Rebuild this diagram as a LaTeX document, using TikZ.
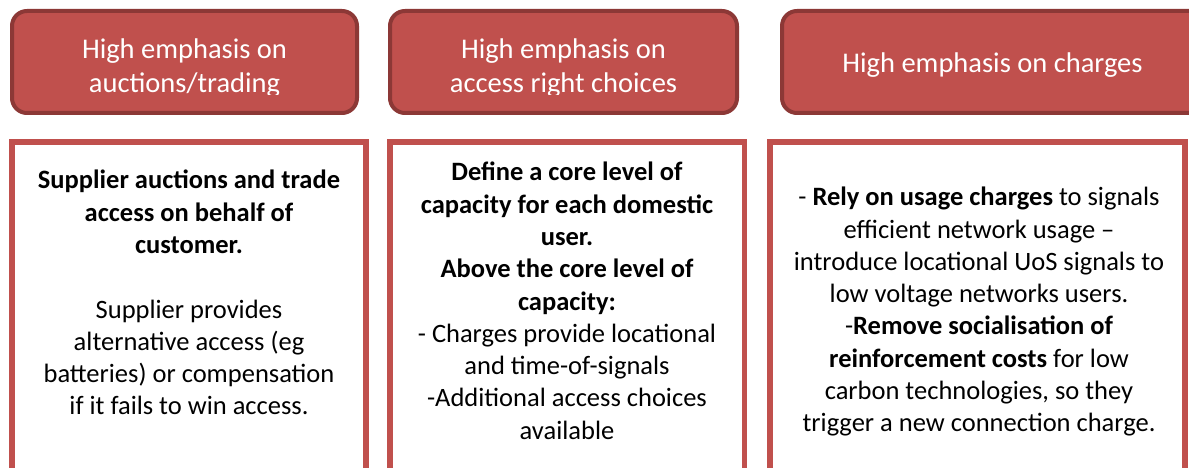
\documentclass[tikz,border=0pt]{standalone}
\usepackage{fontspec}
\setmainfont{Carlito}
\definecolor{hfill}{HTML}{C0504D}
\definecolor{hborder}{HTML}{8C3836}
\definecolor{bborder}{HTML}{C0504D}
\tikzset{
  headbox/.style={draw=hborder, fill=hfill, line width=4pt, rounded corners=15pt, inner sep=0pt, outer sep=0pt},
  bodybox/.style={draw=bborder, line width=5.5pt, inner sep=0pt, outer sep=0pt},
  headtext/.style={text=white, align=center, inner sep=0pt, font=\fontsize{28.5}{34}\selectfont},
  bodytext/.style={text=black, align=center, inner sep=0pt, font=\fontsize{26.5}{32.3}\selectfont}
}
\begin{document}
\begin{tikzpicture}[x=1pt,y=-1pt]
\useasboundingbox (0,0) rectangle (1189,468);
% header boxes
\node[headbox, minimum width=345pt, minimum height=102pt] (h1) at (184.5,62) {};
\node[headbox, minimum width=347pt, minimum height=102pt] (h2) at (563.5,62) {};
\node[headbox, minimum width=430pt, minimum height=102pt] (h3) at (997,62) {};
% header texts (clipped at bottom as in the source)
\begin{scope}
\clip (10,9) rectangle (740,95);
\node[headtext, anchor=north] (ht1) at (184.5,38.5) {High emphasis on\\auctions/trading};
\node[headtext, anchor=north] (ht2) at (563.5,38.5) {High emphasis on\\access right choices};
\end{scope}
\node[headtext, anchor=north] (ht3) at (992.5,52.5) {High emphasis on charges};
% body boxes
\node[bodybox, minimum width=354pt, minimum height=360pt, anchor=north west] (b1) at (12,142) {};
\node[bodybox, minimum width=354.5pt, minimum height=360pt, anchor=north west] (b2) at (390,142) {};
\node[bodybox, minimum width=415pt, minimum height=360pt, anchor=north west] (b3) at (770,142) {};
% body texts
\node[bodytext, anchor=north] (t1) at (189,170) {\textbf{Supplier auctions and trade}\\\textbf{access on behalf of}\\\textbf{customer.}\\[32.3pt]Supplier provides\\alternative access (eg\\batteries) or compensation\\if it fails to win access.};
\node[bodytext, anchor=north] (t2) at (567,162) {\textbf{Define a core level of}\\\textbf{capacity for each domestic}\\\textbf{user.}\\\textbf{Above the core level of}\\\textbf{capacity:}\\- Charges provide locational\\and time-of-signals\\-Additional access choices\\available};
\node[bodytext, anchor=north] (t3) at (979,187) {- \textbf{Rely on usage charges} to signals\\efficient network usage --\\introduce locational UoS signals to\\low voltage networks users.\\-\textbf{Remove socialisation of}\\\textbf{reinforcement costs} for low\\carbon technologies, so they\\trigger a new connection charge.};
\end{tikzpicture}
\end{document}
